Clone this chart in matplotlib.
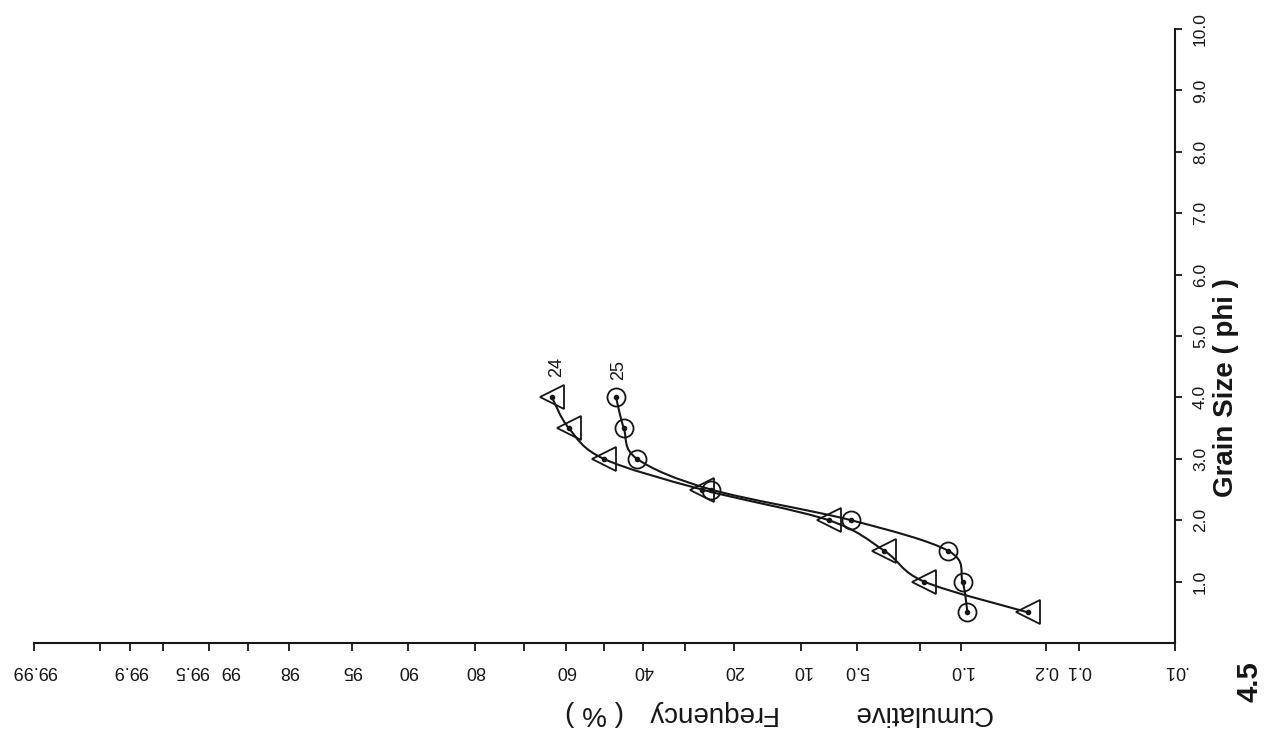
import numpy as np
import matplotlib
matplotlib.use("Agg")
import matplotlib.pyplot as plt
from matplotlib.path import Path
from matplotlib.patches import PathPatch
from matplotlib.transforms import ScaledTranslation
from statistics import NormalDist

# Sample 24 (triangles) and sample 25 (circles): grain size vs cumulative %
phi_24 = [4.0, 3.5, 3.0, 2.5, 2.0, 1.5, 1.0, 0.5]
cum_24 = [63.4, 59.2, 50.2, 26.3, 7.2, 3.4, 1.86, 0.29]
phi_25 = [4.0, 3.5, 3.0, 2.5, 2.0, 1.5, 1.0, 0.5]
cum_25 = [47.0, 45.0, 41.6, 24.4, 5.4, 1.25, 0.98, 0.90]

prob_major = [99.99, 99.9, 99.5, 99, 98, 95, 90, 80, 60, 40, 20, 10, 5, 1, 0.2, 0.1, 0.01]
prob_labels = ["99.99", "99.9", "99.5", "99", "98", "95", "90", "80", "60",
               "40", "20", "10", "5.0", "1.0", "0.2", "0.1", ".01"]
prob_minor = [99.95, 99.8, 70, 50, 30, 2]
phi_ticks = [1, 2, 3, 4, 5, 6, 7, 8, 9, 10]
phi_labels = ["1.0", "2.0", "3.0", "4.0", "5.0", "6.0", "7.0", "8.0", "9.0", "10.0"]

plt.rcParams["font.family"] = ["Liberation Sans", "DejaVu Sans"]
INK = "#161616"

_nd = NormalDist()
_ppf = np.vectorize(_nd.inv_cdf, otypes=[float])
_cdf = np.vectorize(_nd.cdf, otypes=[float])


def prob_forward(p):
    p = np.clip(np.asarray(p, dtype=float), 1e-9, 100 - 1e-9) / 100.0
    return _ppf(p)


def prob_inverse(z):
    return _cdf(np.asarray(z, dtype=float)) * 100.0


W, H = 1273, 745
fig = plt.figure(figsize=(W / 100, H / 100), dpi=100)
fig.patch.set_facecolor("white")
ax = fig.add_axes([34 / W, 1 - 643 / H, (1175 - 34) / W, (643 - 29) / H])
ax.set_facecolor("none")

ax.set_xscale("function", functions=(prob_forward, prob_inverse))
ax.set_xlim(99.99, 0.01)
ax.set_ylim(0, 10)

for s in ("left", "top"):
    ax.spines[s].set_visible(False)
for s in ("bottom", "right"):
    ax.spines[s].set_linewidth(1.5)
    ax.spines[s].set_color(INK)

# probability axis along the bottom, lettered upside down
ax.set_xticks(prob_major)
ax.set_xticklabels(prob_labels, rotation=180, fontsize=13, color=INK)
ax.set_xticks(prob_minor, minor=True)
ax.tick_params(axis="x", which="both", direction="out", length=6, width=1.3,
               color=INK, pad=8)

# the crowded 99.5 / 99 labels sit a little to the left of their ticks
for tick, val in zip(ax.xaxis.get_major_ticks(), prob_major):
    if val in (99.5, 99):
        lab = tick.label1
        lab.set_transform(lab.get_transform()
                          + ScaledTranslation(-0.18, 0, fig.dpi_scale_trans))

# grain size axis on the right, lettered sideways
ax.yaxis.tick_right()
ax.set_yticks(phi_ticks)
ax.set_yticklabels(phi_labels, rotation=90, fontsize=12.5, color=INK, va="center")
ax.tick_params(axis="y", which="both", direction="out", length=5, width=1.3,
               color=INK, pad=8)


def smooth_curve(xs, ys):
    """Catmull-Rom curve through the points, built in pixel space."""
    pts = ax.transData.transform(np.column_stack([xs, ys]))
    n = len(pts)
    verts = [pts[0]]
    codes = [Path.MOVETO]
    for i in range(n - 1):
        p0 = pts[max(i - 1, 0)]
        p1 = pts[i]
        p2 = pts[i + 1]
        p3 = pts[min(i + 2, n - 1)]
        c1 = p1 + (p2 - p0) / 6.0
        c2 = p2 - (p3 - p1) / 6.0
        verts += [c1, c2, p2]
        codes += [Path.CURVE4] * 3
    verts = ax.transAxes.inverted().transform(np.array(verts))
    patch = PathPatch(Path(verts, codes), transform=ax.transAxes, fill=False,
                      edgecolor=INK, linewidth=1.5, clip_on=False)
    ax.add_patch(patch)


smooth_curve(cum_24, phi_24)
smooth_curve(cum_25, phi_25)

ax.plot(cum_24, phi_24, linestyle="none", marker="<", markersize=17,
        markerfacecolor="none", markeredgecolor=INK, markeredgewidth=1.3, clip_on=False)
ax.plot(cum_25, phi_25, linestyle="none", marker="o", markersize=13,
        markerfacecolor="none", markeredgecolor=INK, markeredgewidth=1.3, clip_on=False)
ax.plot(cum_24 + cum_25, phi_24 + phi_25, linestyle="none", marker="o",
        markersize=3, color=INK, clip_on=False)

ax.annotate("24", xy=(cum_24[0], phi_24[0]), xytext=(3, 22), textcoords="offset points",
            rotation=90, ha="center", va="center", fontsize=13, color=INK)
ax.annotate("25", xy=(cum_25[0], phi_25[0]), xytext=(2, 20), textcoords="offset points",
            rotation=90, ha="center", va="center", fontsize=13, color=INK)

# axis titles
fig.text(1226 / W, 1 - 388 / H, "Grain Size ( phi )", rotation=90, ha="center",
         va="center", fontsize=20, fontweight="bold", color=INK)
fig.text(922 / W, 1 - 713 / H, "Cumulative", rotation=180, ha="center",
         va="center", fontsize=20, color=INK)
fig.text(710 / W, 1 - 713 / H, "Frequency", rotation=180, ha="center",
         va="center", fontsize=20, color=INK)
fig.text(595 / W, 1 - 713 / H, "( % )", rotation=180, ha="center",
         va="center", fontsize=20, color=INK)
fig.text(1249 / W, 1 - 682 / H, "4.5", rotation=90, ha="center", va="center",
         fontsize=21, fontweight="bold", color=INK)

fig.savefig("out.png", dpi=100, facecolor="white")
